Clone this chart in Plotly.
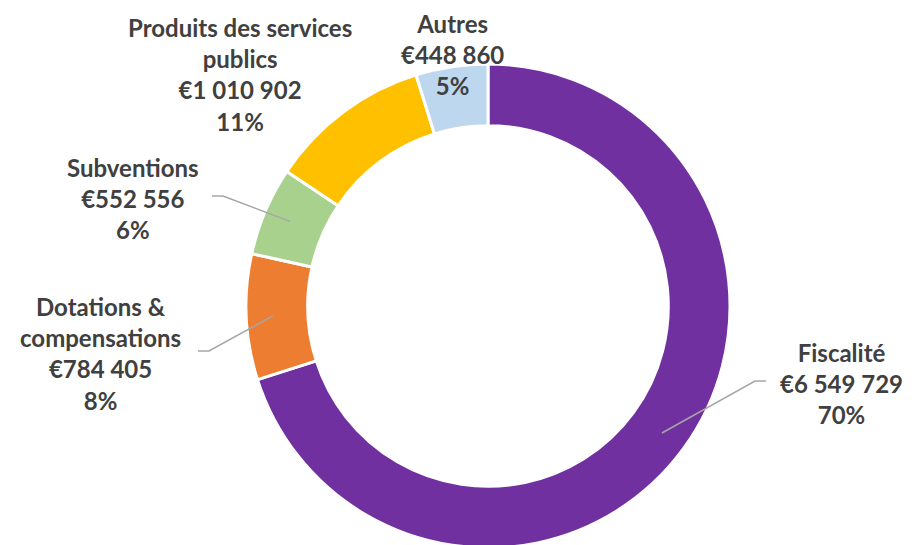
import numpy as np
import plotly.graph_objects as go

# Recettes de fonctionnement
categories = ["Fiscalité", "Dotations &<br>compensations", "Subventions",
              "Produits des services<br>publics", "Autres"]
valeurs = [6549729, 784405, 552556, 1010902, 448860]
couleurs = ["#7030A0", "#ED7D31", "#A9D18E", "#FFC000", "#BDD7EE"]

W, H = 912, 545
OFF = 8                     # marge par défaut du <body> de la page
cx, cy, R = 488, 306, 242   # centre / rayon du donut en pixels (page)
TXT = "#404040"
FONT = "Lato"


def px(x, y):
    return (x - OFF) / W, 1 - (y - OFF) / H


def fmt(v):
    return "€" + f"{v:,}".replace(",", " ")


total = sum(valeurs)
parts = [v / total for v in valeurs]

fig = go.Figure()
fx0, fy0 = px(cx - R, cy + R)
fx1, fy1 = px(cx + R, cy - R)
fig.add_trace(go.Pie(
    labels=[c.replace("<br>", " ") for c in categories],
    values=valeurs,
    marker=dict(colors=couleurs, line=dict(color="white", width=3)),
    hole=0.745,
    sort=False,
    direction="clockwise",
    rotation=0,
    textinfo="none",
    hoverinfo="label+value+percent",
    showlegend=False,
    domain=dict(x=[fx0, fx1], y=[max(fy0, 0), fy1]),
))

# position des étiquettes (centre du bloc de texte, pixels)
pos_labels = [(841, 383), (100, 353), (133, 198), (240, 74), (452, 54)]
# coude + fin des lignes de rappel (None = pas de ligne)
coudes = [((755, 381), (766, 381)), ((209, 351), (198, 351)),
          ((223, 196), (212, 196)), None, None]

cum = np.cumsum([0] + parts)
for i, cat in enumerate(categories):
    txt = f"{cat}<br>{fmt(valeurs[i])}<br>{round(parts[i] * 100)}%"
    x, y = px(*pos_labels[i])
    fig.add_annotation(x=x, y=y, xref="paper", yref="paper", text=txt,
                       showarrow=False, align="center",
                       xanchor="center", yanchor="middle",
                       font=dict(family=FONT, size=24, color=TXT, weight="bold"))
    if coudes[i] is not None:
        ang = 2 * np.pi * (cum[i] + parts[i] / 2)
        r = 0.89 * R
        sx, sy = cx + r * np.sin(ang), cy - r * np.cos(ang)
        (bx, by), (ex, ey) = coudes[i]
        pts = [px(sx, sy), px(bx, by), px(ex, ey)]
        path = "M {} {} L {} {} L {} {}".format(*[c for p in pts for c in p])
        fig.add_shape(type="path", path=path, xref="paper", yref="paper",
                      line=dict(color="#A6A6A6", width=1.5))

fig.update_layout(width=W, height=H, margin=dict(l=0, r=0, t=0, b=0),
                  paper_bgcolor="white", plot_bgcolor="white")
fig.write_html("out.html")
